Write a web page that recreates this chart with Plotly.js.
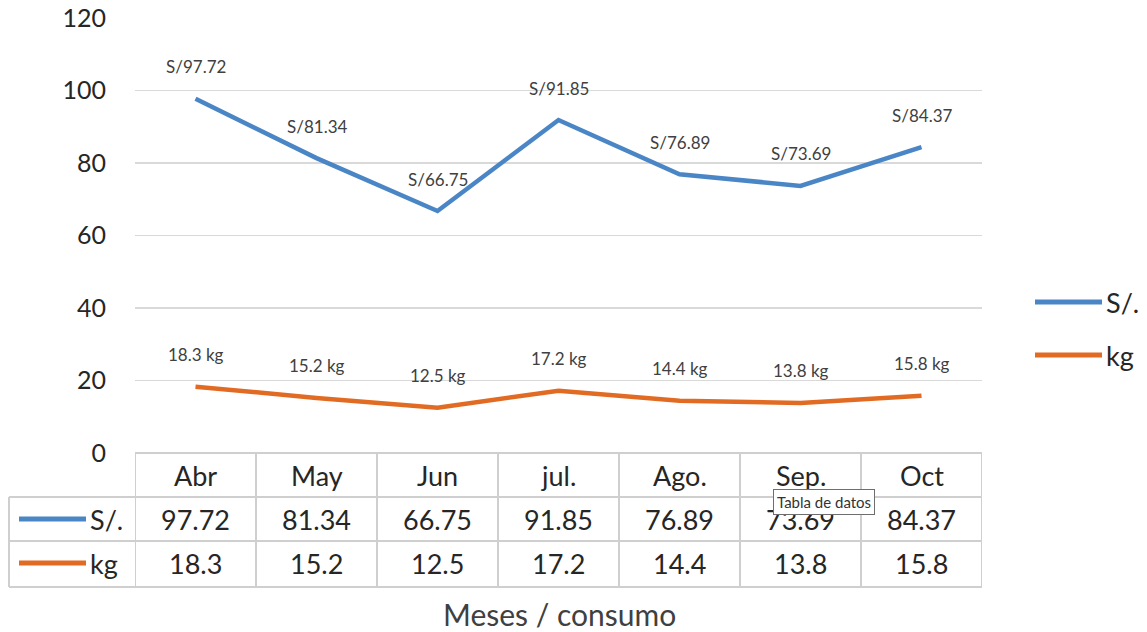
<!DOCTYPE html>
<html><head><meta charset="utf-8">
<script src="https://cdn.plot.ly/plotly-3.0.1.min.js"></script>
<style>html,body{margin:0;padding:0;background:#fff}#chart{width:1147px;height:632px}</style>
</head><body><div id="chart"></div>
<script>
const months = ["Abr","May","Jun","jul.","Ago.","Sep.","Oct"];
const soles = [97.72, 81.34, 66.75, 91.85, 76.89, 73.69, 84.37];
const kg = [18.3, 15.2, 12.5, 17.2, 14.4, 13.8, 15.8];
const seriesNames = ["S/.", "kg"];
const yTicks = [0, 20, 40, 60, 80, 100, 120];

const blue = "#4a86c6", orange = "#e26b24";
const font = "Lato, 'Open Sans', sans-serif";
const txt = "#262626", lbl = "#404040", grid = "#d9d9d9", tbl = "#cfcfcf";

const W = 847, H = 435, L = 135, T = 18;
const px = x => (x - L) / W;
const py = y => (T + H - y) / H;

const traces = [
  {x: months, y: soles, mode: "lines", line: {color: blue, width: 4.5}, name: seriesNames[0], hoverinfo: "skip"},
  {x: months, y: kg, mode: "lines", line: {color: orange, width: 4.5}, name: seriesNames[1], hoverinfo: "skip"}
];

const ann = [], shapes = [];
const A = o => ann.push(Object.assign({showarrow: false, xanchor: "center", yanchor: "middle"}, o));
months.forEach((m, i) => {
  A({x: m, y: soles[i], xref: "x", yref: "y", text: "S/" + soles[i].toFixed(2), yshift: 32, font: {family: font, size: 17, color: lbl}});
  A({x: m, y: kg[i], xref: "x", yref: "y", text: kg[i] + " kg", yshift: 32, font: {family: font, size: 17, color: lbl}});
  A({x: m, y: py(475), xref: "x", yref: "paper", text: m, font: {family: font, size: 27, color: txt}});
  A({x: m, y: py(519), xref: "x", yref: "paper", text: soles[i].toFixed(2), font: {family: font, size: 27, color: txt}});
  A({x: m, y: py(563), xref: "x", yref: "paper", text: String(kg[i]), font: {family: font, size: 27, color: txt}});
});
// table grid
for (let k = 0; k <= months.length; k++) {
  shapes.push({type: "line", xref: "x", yref: "paper", x0: k - 0.5, x1: k - 0.5, y0: py(453), y1: py(587), line: {color: tbl, width: 2}});
}
shapes.push({type: "line", xref: "paper", yref: "paper", x0: 0, x1: 1, y0: py(453), y1: py(453), line: {color: tbl, width: 2}});
[497, 541, 587].forEach(y => shapes.push({type: "line", xref: "paper", yref: "paper", x0: px(9), x1: 1, y0: py(y), y1: py(y), line: {color: tbl, width: 2}}));
shapes.push({type: "line", xref: "paper", yref: "paper", x0: px(9), x1: px(9), y0: py(497), y1: py(587), line: {color: tbl, width: 2}});
// table legend keys
[[519, blue, seriesNames[0]], [563, orange, seriesNames[1]]].forEach(([y, c, n]) => {
  shapes.push({type: "line", xref: "paper", yref: "paper", x0: px(19), x1: px(86), y0: py(y), y1: py(y), line: {color: c, width: 5}});
  A({x: px(88), y: py(y), xref: "paper", yref: "paper", xanchor: "left", text: n, font: {family: font, size: 27, color: txt}});
});
// right legend
[[302, blue, seriesNames[0]], [355, orange, seriesNames[1]]].forEach(([y, c, n]) => {
  shapes.push({type: "line", xref: "paper", yref: "paper", x0: px(1035), x1: px(1102), y0: py(y), y1: py(y), line: {color: c, width: 5}});
  A({x: px(1104), y: py(y), xref: "paper", yref: "paper", xanchor: "left", text: n, font: {family: font, size: 27, color: txt}});
});
// axis title
A({x: px(559), y: py(614), xref: "paper", yref: "paper", text: "Meses / consumo", font: {family: font, size: 30, color: lbl}});
// tooltip
A({x: px(824), y: py(502), xref: "paper", yref: "paper", text: "Tabla de datos", bgcolor: "#ffffff", bordercolor: "#6e6e6e", borderwidth: 1, borderpad: 3, font: {family: font, size: 15, color: "#333"}});

const layout = {
  width: 1147, height: 632,
  margin: {l: L, r: 1147 - L - W, t: T, b: 632 - T - H},
  paper_bgcolor: "#fff", plot_bgcolor: "#fff",
  showlegend: false,
  xaxis: {type: "category", range: [-0.5, 6.5], showticklabels: false, showgrid: false, zeroline: false, showline: false, fixedrange: true},
  yaxis: {range: [0, 120], tickvals: yTicks, ticktext: yTicks.map(String), showgrid: true, gridcolor: grid, gridwidth: 1.5, zeroline: false, showline: false,
          ticklabelstandoff: 28, tickfont: {family: font, size: 25, color: txt}, fixedrange: true},
  annotations: ann, shapes: shapes
};
Plotly.newPlot("chart", traces, layout, {displayModeBar: false, staticPlot: true});
</script></body></html>
